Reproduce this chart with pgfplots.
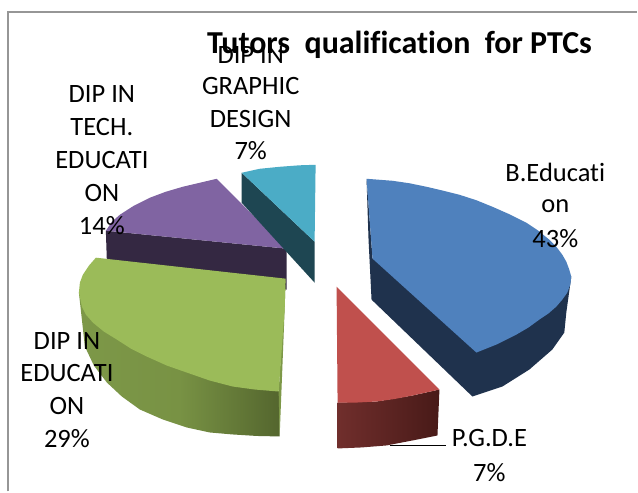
\documentclass[border=0pt]{standalone}
\usepackage{fontspec}
\setmainfont[Ligatures=NoCommon]{Carlito}
\usepackage{pgfplots}
\pgfplotsset{compat=1.18}
\definecolor{blueT}{RGB}{79,129,189}
\definecolor{blueS}{RGB}{31,50,77}
\definecolor{redT}{RGB}{192,80,77}
\definecolor{redL}{RGB}{112,46,44}
\definecolor{redR}{RGB}{72,26,24}
\definecolor{greenT}{RGB}{155,187,89}
\definecolor{greenL}{RGB}{125,152,72}
\definecolor{greenM}{RGB}{120,146,68}
\definecolor{greenR}{RGB}{84,102,46}
\definecolor{purT}{RGB}{128,100,162}
\definecolor{purS}{RGB}{52,40,66}
\definecolor{tealT}{RGB}{75,172,198}
\definecolor{tealS}{RGB}{30,70,82}
\definecolor{frameC}{RGB}{150,150,150}
\newcommand{\lab}{\fontsize{26.5}{26.5}\selectfont}
\begin{document}
\begin{tikzpicture}
\begin{axis}[
  scale only axis, width=638pt, height=492pt,
  xmin=0, xmax=638, ymin=0, ymax=492, y dir=reverse,
  axis lines=none, clip=false,
  every axis plot/.append style={no markers, line width=0pt},
]
% page extent
\addplot[fill=white, draw=none] coordinates {(0,0) (638,0) (638,492) (0,492)} --cycle;
% frame
\addplot[frameC, line width=1.6pt] coordinates {(8,492) (8,12) (638,12)};
% purple
\addplot[fill=purS, draw=none] coordinates {(106,231) (107,262) (287,290) (287,249)} --cycle;
\addplot[fill=purT, draw=none] coordinates {(217,179) (287,249) (106,231) (112,222) (120,215) (134,206) (150,198) (166,192) (183,187) (200,183)} --cycle;
% teal
\addplot[fill=tealS, draw=none] coordinates {(242,173) (242,203) (315,283) (315,242)} --cycle;
\addplot[fill=tealT, draw=none] coordinates {(242,173) (260,169) (280,167) (300,165.5) (316,165) (315,242)} --cycle;
% green
\addplot[draw=none, left color=greenL, right color=greenR, middle color=greenM] coordinates {(79,293) (82,320) (85,347) (94,366) (107,383) (122,397) (140,410) (163,420) (187,428) (210,433) (233,435) (257,436.5) (280,437) (280,392)} --cycle;
\addplot[fill=greenL, draw=none] coordinates {(286,279) (285,310) (280,437) (279,392)} --cycle;
\addplot[fill=greenT, draw=none] coordinates {(96,258) (286,279) (285,310) (279,392) (255,390) (233,387) (210,381) (187,373) (167,366) (147,357) (131,349) (117,340) (104,332) (93,323) (86,315) (82,307) (79,293) (80,283) (83,275) (89,266)} --cycle;
% blue
\addplot[fill=blueS, draw=none] coordinates {(367,179) (369,240) (372,300) (473,397) (503,387) (530,370) (553,350) (565,333) (567,313) (572,277) (373,259)} --cycle;
\addplot[fill=blueT, draw=none] coordinates {(367,179) (393,181) (410,183.5) (427,187) (444,191) (460,195) (477,200.5) (493,207) (510,214.5) (527,223) (539,231) (550,240) (557,247) (563,255) (567,262) (570,270) (572,277) (571,285) (568,293) (563,300) (557,307) (549,314) (540,320) (529,328) (517,335) (507,340) (497,345) (487,349) (477,353) (373,259)} --cycle;
% red
\addplot[draw=none, left color=redL, right color=redR] coordinates {(338,403) (338,449) (362,448) (387,446) (413,441) (438,436) (440,390) (413,396) (377,402)} --cycle;
\addplot[fill=redT, draw=none] coordinates {(337,287) (440,390) (413,396) (395,399.5) (377,402) (358,403) (338,403)} --cycle;
% leader
\addplot[black, line width=1pt] coordinates {(390,446) (447,446)};
% labels
\node[font=\lab] at (axis cs:251,55) {DIP IN};
\node[font=\lab] at (axis cs:251,86) {GRAPHIC};
\node[font=\lab] at (axis cs:251,119) {DESIGN};
\node[font=\lab] at (axis cs:251,151) {7\%};
\node[font=\lab] at (axis cs:102,94) {DIP IN};
\node[font=\lab] at (axis cs:102,127) {TECH.};
\node[font=\lab] at (axis cs:102,160) {EDUCATI};
\node[font=\lab] at (axis cs:102,193) {ON};
\node[font=\lab] at (axis cs:102,226) {14\%};
\node[font=\lab] at (axis cs:556,173) {B.Educati};
\node[font=\lab] at (axis cs:556,206) {on};
\node[font=\lab] at (axis cs:556,239) {43\%};
\node[font=\lab] at (axis cs:490,439) {P.G.D.E};
\node[font=\lab] at (axis cs:490,473) {7\%};
\node[font=\lab] at (axis cs:67,341) {DIP IN};
\node[font=\lab] at (axis cs:67,373) {EDUCATI};
\node[font=\lab] at (axis cs:67,407) {ON};
\node[font=\lab] at (axis cs:67,439) {29\%};
\node[font=\fontsize{32}{32}\selectfont\bfseries] at (axis cs:400,45) {Tutors\ \ qualification\ \ for PTCs};
\end{axis}
\end{tikzpicture}
\end{document}
